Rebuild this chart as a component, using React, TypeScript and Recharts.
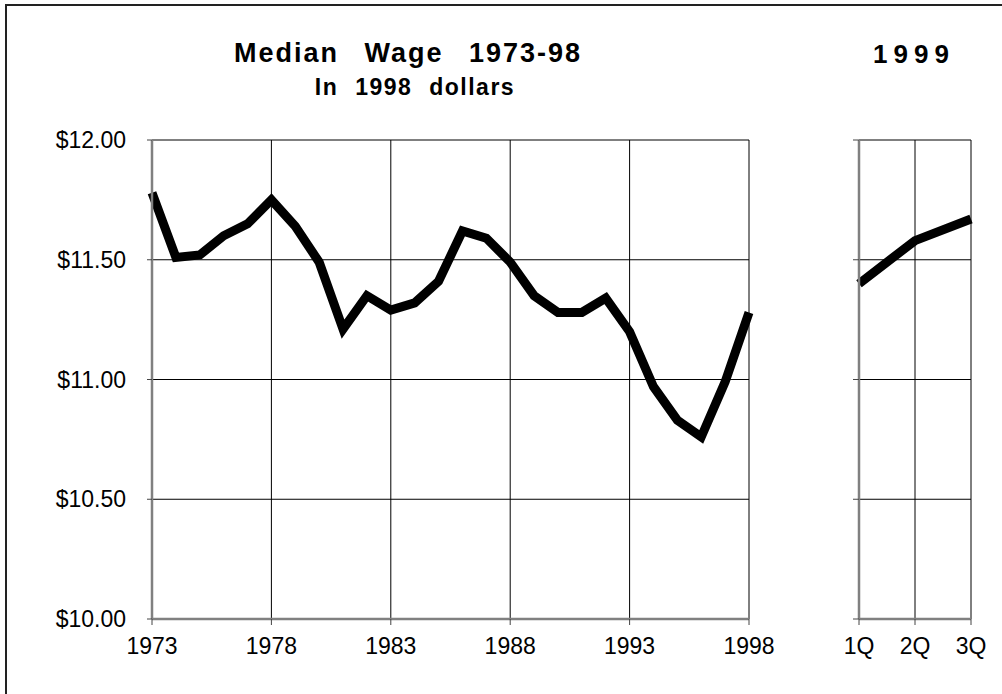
import React from "react";
import { LineChart, Line, XAxis, YAxis, CartesianGrid } from "recharts";

// annual median hourly wage, 1998 dollars
const years = [
  1973, 1974, 1975, 1976, 1977, 1978, 1979, 1980, 1981, 1982, 1983, 1984, 1985,
  1986, 1987, 1988, 1989, 1990, 1991, 1992, 1993, 1994, 1995, 1996, 1997, 1998,
];
const wages = [
  11.78, 11.51, 11.52, 11.6, 11.65, 11.75, 11.64, 11.49, 11.21, 11.35, 11.29,
  11.32, 11.41, 11.62, 11.59, 11.49, 11.35, 11.28, 11.28, 11.34, 11.2, 10.97,
  10.83, 10.76, 10.99, 11.28,
];
const yearTicks = [1973, 1978, 1983, 1988, 1993, 1998];

// 1999 quarters
const quarters = ["1Q", "2Q", "3Q"];
const quarterWages = [11.4, 11.58, 11.67];

const wageTicks = [10, 10.5, 11, 11.5, 12];

const annualData = years.map((year, i) => ({ year, wage: wages[i] }));
const quarterData = quarters.map((q, i) => ({ q, wage: quarterWages[i] }));

const FONT = '"Liberation Sans", Arial, sans-serif';
const tickStyle = { fill: "#000", fontSize: 23, fontFamily: FONT };
const frame = { stroke: "#808080", strokeWidth: 2.5 };
const tickLn = { stroke: "#444", strokeWidth: 1 };

const money = (v: number) => "$" + v.toFixed(2);

export default function App() {
  return (
    <div
      style={{
        position: "absolute",
        left: 0,
        top: 0,
        width: 1002,
        height: 694,
        background: "#fff",
        overflow: "hidden",
        fontFamily: FONT,
      }}
    >
      <div
        style={{
          position: "absolute",
          left: 5,
          top: 4,
          width: 1010,
          height: 710,
          borderLeft: "2px solid #222",
          borderTop: "2px solid #222",
        }}
      />

      <div
        style={{
          position: "absolute",
          left: 0,
          width: 816,
          top: 38,
          textAlign: "center",
          fontWeight: "bold",
          fontSize: 27,
          letterSpacing: 2,
          wordSpacing: 16,
          lineHeight: "30px",
        }}
      >
        Median Wage 1973-98
      </div>
      <div
        style={{
          position: "absolute",
          left: 0,
          width: 830,
          top: 74,
          textAlign: "center",
          fontWeight: "bold",
          fontSize: 23,
          letterSpacing: 1.5,
          wordSpacing: 9,
          lineHeight: "26px",
        }}
      >
        In 1998 dollars
      </div>
      <div
        style={{
          position: "absolute",
          left: 814,
          width: 200,
          top: 39,
          textAlign: "center",
          fontWeight: "bold",
          fontSize: 26,
          letterSpacing: 6,
          lineHeight: "30px",
        }}
      >
        1999
      </div>

      <div style={{ position: "absolute", left: 0, top: 0 }}>
        <LineChart
          width={780}
          height={694}
          data={annualData}
          margin={{ top: 140, right: 31, bottom: 45, left: 92 }}
        >
          <CartesianGrid stroke="#000" strokeWidth={1} />
          <XAxis
            dataKey="year"
            type="number"
            domain={[1973, 1998]}
            ticks={yearTicks}
            height={30}
            tick={tickStyle}
            tickSize={6}
            tickMargin={13}
            axisLine={frame}
            tickLine={tickLn}
          />
          <XAxis
            xAxisId="top"
            orientation="top"
            height={0}
            tick={false}
            tickLine={false}
            axisLine={frame}
          />
          <YAxis
            domain={[10, 12]}
            ticks={wageTicks}
            width={60}
            tickFormatter={money}
            tick={tickStyle}
            tickSize={5}
            tickMargin={21}
            axisLine={frame}
            tickLine={tickLn}
          />
          <YAxis
            yAxisId="right"
            orientation="right"
            width={0}
            tick={false}
            tickLine={false}
            axisLine={frame}
          />
          <Line
            dataKey="wage"
            stroke="#000"
            strokeWidth={9}
            dot={false}
            isAnimationActive={false}
          />
        </LineChart>
      </div>

      <div style={{ position: "absolute", left: 780, top: 0 }}>
        <LineChart
          width={222}
          height={694}
          data={quarterData}
          margin={{ top: 140, right: 31, bottom: 45, left: 59 }}
        >
          <CartesianGrid stroke="#000" strokeWidth={1} />
          <XAxis
            dataKey="q"
            height={30}
            tick={tickStyle}
            tickSize={6}
            tickMargin={13}
            axisLine={frame}
            tickLine={tickLn}
          />
          <XAxis
            xAxisId="top"
            orientation="top"
            height={0}
            tick={false}
            tickLine={false}
            axisLine={frame}
          />
          <YAxis
            domain={[10, 12]}
            ticks={wageTicks}
            width={20}
            tickFormatter={() => ""}
            tickSize={6}
            axisLine={frame}
            tickLine={tickLn}
          />
          <YAxis
            yAxisId="right"
            orientation="right"
            width={0}
            tick={false}
            tickLine={false}
            axisLine={frame}
          />
          <Line
            dataKey="wage"
            stroke="#000"
            strokeWidth={9}
            dot={false}
            isAnimationActive={false}
          />
        </LineChart>
      </div>
    </div>
  );
}
